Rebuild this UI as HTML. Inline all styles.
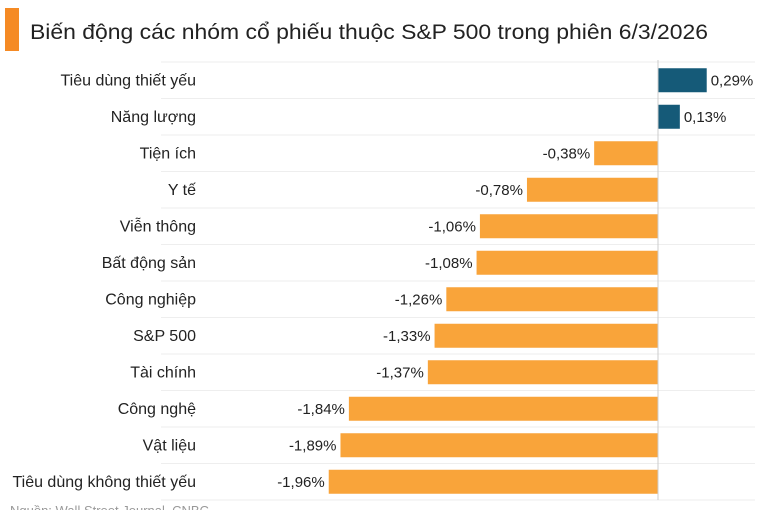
<!DOCTYPE html>
<html><head><meta charset="utf-8"><style>
body{margin:0;background:#fff;width:770px;height:510px;overflow:hidden;font-family:"Liberation Sans",sans-serif;}
</style></head><body>
<svg width="770" height="510" xmlns="http://www.w3.org/2000/svg" font-family="Liberation Sans, sans-serif">
<rect x="5" y="8" width="14" height="43" fill="#f58a24"/>
<text x="30" y="39" font-size="21" fill="#222" textLength="678" lengthAdjust="spacingAndGlyphs">Biến động các nhóm cổ phiếu thuộc S&amp;P 500 trong phiên 6/3/2026</text>
<g id="g"></g>
<line x1="658" y1="60" x2="658" y2="500" stroke="#ccc" stroke-width="1"/>
</svg>
<script>
const d=[["Tiêu dùng thiết yếu",0.29],["Năng lượng",0.13],["Tiện ích",-0.38],["Y tế",-0.78],["Viễn thông",-1.06],["Bất động sản",-1.08],["Công nghiệp",-1.26],["S&P 500",-1.33],["Tài chính",-1.37],["Công nghệ",-1.84],["Vật liệu",-1.89],["Tiêu dùng không thiết yếu",-1.96]];
const ns="http://www.w3.org/2000/svg",g=document.getElementById("g");
function el(t,a,txt){const e=document.createElementNS(ns,t);for(const k in a)e.setAttribute(k,a[k]);if(txt!==undefined)e.textContent=txt;g.appendChild(e);return e;}
const z=658,s=168,p=36.5;
el("line",{x1:161,x2:755,y1:62,y2:62,stroke:"#eee"});
d.forEach((r,i)=>{const y0=62+i*p,cy=y0+p/2;
el("line",{x1:161,x2:755,y1:y0+p,y2:y0+p,stroke:"#eee"});
const w=Math.abs(r[1])*s,pos=r[1]>0;
el("rect",{x:pos?z:z-w,y:cy-12,width:w,height:24,fill:pos?"#155a78":"#f9a43a"});
el("text",{x:196,y:cy+5,"text-anchor":"end","font-size":16,fill:"#222"},r[0]);
const lab=r[1].toFixed(2).replace(".",",")+"%";
el("text",{x:pos?z+w+4:z-w-4,y:cy+5,"text-anchor":pos?"start":"end","font-size":15,fill:"#222"},lab);
});
el("text",{x:10,y:515,"font-size":13,fill:"#999"},"Nguồn: Wall Street Journal, CNBC");
</script>
</body></html>
